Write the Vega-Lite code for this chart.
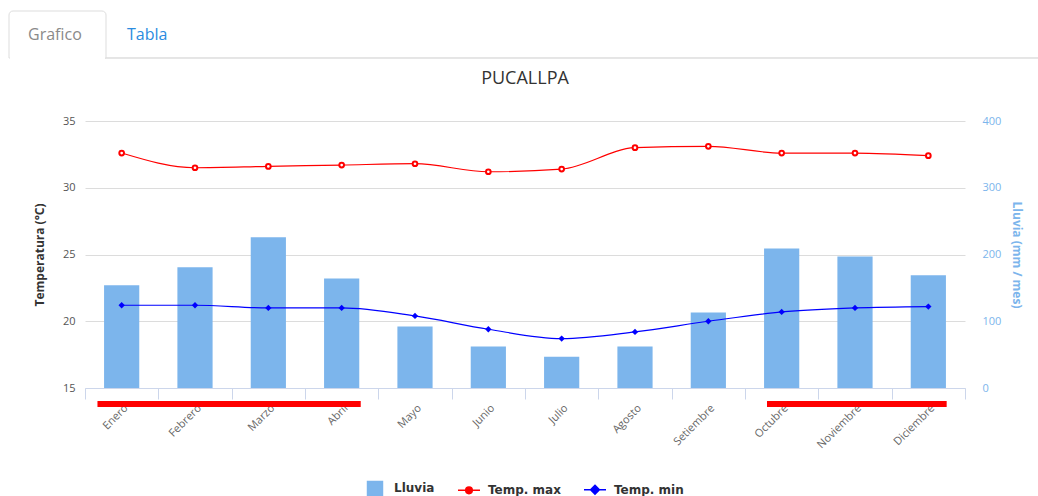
{
  "$schema": "https://vega.github.io/schema/vega-lite/v6.json",
  "background": "white",
  "padding": {"top": 10, "left": 8, "right": 0, "bottom": 0},
  "datasets": {
    "clima": [
      {"mes": "Enero", "lluvia": 154, "tmax": 32.6, "tmin": 21.2},
      {"mes": "Febrero", "lluvia": 181, "tmax": 31.5, "tmin": 21.2},
      {"mes": "Marzo", "lluvia": 226, "tmax": 31.6, "tmin": 21.0},
      {"mes": "Abril", "lluvia": 164, "tmax": 31.7, "tmin": 21.0},
      {"mes": "Mayo", "lluvia": 92, "tmax": 31.8, "tmin": 20.4},
      {"mes": "Junio", "lluvia": 62, "tmax": 31.2, "tmin": 19.4},
      {"mes": "Julio", "lluvia": 47, "tmax": 31.4, "tmin": 18.7},
      {"mes": "Agosto", "lluvia": 62, "tmax": 33.0, "tmin": 19.2},
      {"mes": "Setiembre", "lluvia": 113, "tmax": 33.1, "tmin": 20.0},
      {"mes": "Octubre", "lluvia": 209, "tmax": 32.6, "tmin": 20.7},
      {"mes": "Noviembre", "lluvia": 197, "tmax": 32.6, "tmin": 21.0},
      {"mes": "Diciembre", "lluvia": 169, "tmax": 32.4, "tmin": 21.1}
    ],
    "tabs": [
      {"tab": "Grafico", "estado": "activo"},
      {"tab": "Tabla", "estado": "inactivo"}
    ],
    "lluviosa": [
      {"inicio": 0.17, "fin": 3.76},
      {"inicio": 9.3, "fin": 11.75}
    ]
  },
  "columns": 1,
  "align": "none",
  "spacing": 10,
  "concat": [
    {
      "width": 953,
      "height": 47,
      "data": {"name": "tabs"},
      "layer": [
        {
          "mark": {"type": "rule", "color": "#dddddd", "strokeWidth": 1},
          "encoding": {
            "y": {"datum": 0, "type": "quantitative", "scale": {"domain": [0, 1]}, "axis": null}
          }
        },
        {
          "transform": [{"filter": "datum.estado === 'activo'"}],
          "mark": {"type": "bar", "fill": "white", "stroke": "#dddddd", "strokeWidth": 1, "cornerRadiusTopLeft": 4, "cornerRadiusTopRight": 4},
          "encoding": {
            "x": {"field": "tab", "type": "nominal", "sort": null, "scale": {"domain": ["Grafico", "Tabla"], "range": [-76, 118], "paddingInner": 0, "paddingOuter": 0}, "axis": null},
            "y": {"datum": 0, "type": "quantitative"},
            "y2": {"datum": 1}
          }
        },
        {
          "transform": [{"filter": "datum.estado === 'activo'"}],
          "mark": {"type": "bar", "fill": "white", "strokeWidth": 0, "width": {"band": 0.98}},
          "encoding": {
            "x": {"field": "tab", "type": "nominal", "sort": null},
            "y": {"datum": -0.03, "type": "quantitative"},
            "y2": {"datum": 0.03}
          }
        },
        {
          "transform": [{"filter": "datum.estado === 'activo'"}],
          "mark": {"type": "text", "font": "Open Sans", "fontSize": 16, "color": "#8a8a8a", "align": "left", "dx": 19},
          "encoding": {
            "x": {"field": "tab", "type": "nominal", "sort": null, "bandPosition": 0},
            "y": {"datum": 0.5, "type": "quantitative"},
            "text": {"field": "tab"}
          }
        },
        {
          "transform": [{"filter": "datum.estado === 'inactivo'"}],
          "mark": {"type": "text", "font": "Open Sans", "fontSize": 16, "color": "#2b8ce0", "align": "left", "dx": 21},
          "encoding": {
            "x": {"field": "tab", "type": "nominal", "sort": null, "bandPosition": 0},
            "y": {"datum": 0.5, "type": "quantitative"},
            "text": {"field": "tab"}
          }
        }
      ]
    },
    {
      "width": 880,
      "height": 267,
      "data": {"name": "clima"},
      "title": {"text": "PUCALLPA", "font": "Open Sans", "fontSize": 18, "fontWeight": "normal", "color": "#333333", "offset": 27},
      "layer": [
        {
          "mark": {"type": "bar", "color": "#7cb5ec", "width": {"band": 0.48}},
          "encoding": {
            "x": {
              "field": "mes", "type": "nominal", "sort": null,
              "scale": {"type": "band", "paddingInner": 0, "paddingOuter": 0},
              "axis": {
                "title": null, "labelAngle": -45, "labelAlign": "right", "labelBaseline": "top",
                "labelFont": "Open Sans", "labelFontSize": 11, "labelColor": "#666666", "labelPadding": 3,
                "tickBand": "extent", "ticks": true, "tickSize": 11, "tickColor": "#ccd6eb",
                "domain": true, "domainColor": "#ccd6eb", "grid": false
              }
            },
            "y": {
              "field": "lluvia", "type": "quantitative",
              "scale": {"domain": [0, 400], "nice": false},
              "axis": {
                "orient": "right", "title": "Lluvia (mm / mes)", "values": [0, 100, 200, 300, 400],
                "labelColor": "#7cb5ec", "labelFont": "Open Sans", "labelFontSize": 11, "labelPadding": 17,
                "titleColor": "#7cb5ec", "titleFont": "Open Sans", "titleFontSize": 12, "titleFontWeight": "bold", "titlePadding": 9,
                "ticks": false, "domain": false, "grid": false
              }
            },
            "color": {
              "datum": "Lluvia", "type": "nominal",
              "scale": {"domain": ["Lluvia", "Temp. max", "Temp. min"], "range": ["#7cb5ec", "#ff0000", "#0000ff"]},
              "legend": {
                "orient": "bottom", "direction": "horizontal", "title": null, "offset": 25,
                "labelFont": "DejaVu Sans", "labelFontWeight": "bold", "labelFontSize": 12, "labelColor": "#333333",
                "labelOffset": 7, "columnPadding": 20, "symbolSize": 484,
                "encode": {
                  "symbols": {
                    "update": {
                      "shape": {"signal": "datum.value === 'Lluvia' ? 'M-0.68,-0.64H0.68V0.64H-0.68Z' : datum.value === 'Temp. max' ? 'M-1,0H-0.3M0.3,0H1M-0.3,0A0.3,0.3,0,1,1,0.3,0A0.3,0.3,0,1,1,-0.3,0Z' : 'M-1,0H1M0,-0.4L0.4,0L0,0.4L-0.4,0Z'"},
                      "fill": {"signal": "datum.value === 'Lluvia' ? '#7cb5ec' : datum.value === 'Temp. max' ? '#ffffff' : '#0000ff'"},
                      "stroke": {"signal": "datum.value === 'Lluvia' ? '#7cb5ec' : datum.value === 'Temp. max' ? '#ff0000' : '#0000ff'"},
                      "strokeWidth": {"value": 1.5},
                      "opacity": {"value": 1}
                    }
                  }
                }
              }
            }
          }
        },
        {
          "encoding": {
            "x": {"field": "mes", "type": "nominal", "sort": null, "scale": {"type": "point", "padding": 0.5}, "axis": null},
            "y": {
              "type": "quantitative",
              "scale": {"domain": [15, 35], "nice": false, "zero": false},
              "axis": {
                "orient": "left", "title": "Temperatura (°C)", "values": [15, 20, 25, 30, 35],
                "labelColor": "#555555", "labelFont": "Open Sans", "labelFontSize": 11, "labelPadding": 10,
                "titleColor": "#333333", "titleFont": "Open Sans", "titleFontSize": 12, "titleFontWeight": "bold", "titlePadding": 16,
                "ticks": false, "domain": false, "grid": true, "gridColor": "#dcdcdc"
              }
            }
          },
          "layer": [
            {
              "mark": {"type": "line", "interpolate": "monotone", "strokeWidth": 1.2},
              "encoding": {"y": {"field": "tmax"}, "color": {"datum": "Temp. max", "type": "nominal"}}
            },
            {
              "mark": {"type": "point", "shape": "circle", "size": 22, "filled": true, "fill": "white", "stroke": "#ff0000", "strokeWidth": 2, "opacity": 1},
              "encoding": {"y": {"field": "tmax"}}
            },
            {
              "mark": {"type": "line", "interpolate": "monotone", "strokeWidth": 1.2},
              "encoding": {"y": {"field": "tmin"}, "color": {"datum": "Temp. min", "type": "nominal"}}
            },
            {
              "mark": {"type": "point", "shape": "diamond", "size": 40, "filled": true, "color": "#0000ff", "opacity": 1},
              "encoding": {"y": {"field": "tmin"}}
            }
          ]
        },
        {
          "data": {"name": "lluviosa"},
          "mark": {"type": "rule", "color": "#ff0000", "strokeWidth": 6},
          "encoding": {
            "x": {"field": "inicio", "type": "quantitative", "scale": {"domain": [0, 12], "nice": false, "zero": false}, "axis": null},
            "x2": {"field": "fin"},
            "y": {"datum": 13.8, "type": "quantitative", "scale": {"domain": [15, 35], "nice": false, "zero": false}, "axis": null}
          }
        }
      ],
      "resolve": {"scale": {"x": "independent", "y": "independent"}}
    }
  ],
  "config": {
    "view": {"stroke": null},
    "font": "Open Sans",
    "legend": {"layout": {"bottom": {"anchor": "middle"}}}
  }
}
